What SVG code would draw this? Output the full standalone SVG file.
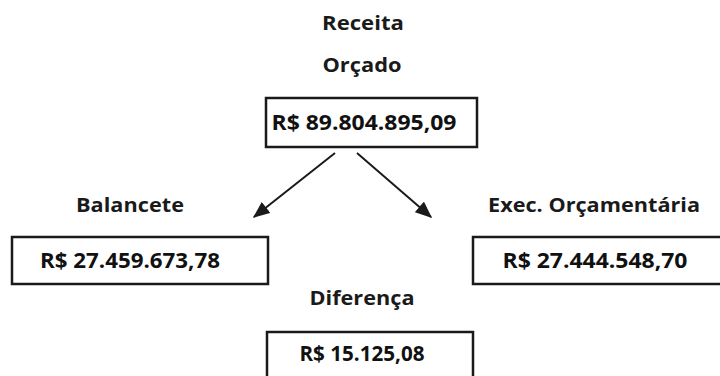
<svg xmlns="http://www.w3.org/2000/svg" width="720" height="376" viewBox="0 0 720 376">
<style>
.lbl{font-family:"Open Sans","Liberation Sans",sans-serif;font-weight:700;font-size:19px;fill:#1a1a1a;text-anchor:middle}
.val{font-family:"Open Sans","Liberation Sans",sans-serif;font-weight:700;font-size:21px;fill:#111;text-anchor:middle}
.box{fill:#fff;stroke:#1a1a1a;stroke-width:2.5}
.con{stroke:#1a1a1a;stroke-width:2;fill:none}
</style>
<defs>
<marker id="arr" viewBox="0 0 12 10" refX="11" refY="5" markerWidth="17" markerHeight="14" orient="auto" markerUnits="userSpaceOnUse">
<path d="M0,0 L12,5 L0,10 z" fill="#1a1a1a"/>
</marker>
</defs>
<rect width="720" height="376" fill="#fff"/>
<g id="title">
<text class="lbl" x="363" y="30" textLength="82" lengthAdjust="spacingAndGlyphs">Receita</text>
<text class="lbl" x="362" y="72" textLength="79" lengthAdjust="spacingAndGlyphs">Orçado</text>
</g>
<g id="orcado">
<rect class="box" x="266" y="98" width="211" height="49"/>
<text class="val" x="364" y="130" textLength="185" lengthAdjust="spacingAndGlyphs">R$ 89.804.895,09</text>
</g>
<g id="connectors">
<line class="con" x1="335" y1="153" x2="254" y2="217" marker-end="url(#arr)"/>
<line class="con" x1="357" y1="153" x2="431" y2="217" marker-end="url(#arr)"/>
</g>
<g id="balancete">
<text class="lbl" x="130" y="212" textLength="108" lengthAdjust="spacingAndGlyphs">Balancete</text>
<rect class="box" x="12" y="237" width="256" height="47"/>
<text class="val" x="130" y="268" textLength="180" lengthAdjust="spacingAndGlyphs">R$ 27.459.673,78</text>
</g>
<g id="exec">
<text class="lbl" x="594" y="212" textLength="212" lengthAdjust="spacingAndGlyphs">Exec. Orçamentária</text>
<rect class="box" x="473" y="237" width="260" height="47"/>
<text class="val" x="595" y="268" textLength="185" lengthAdjust="spacingAndGlyphs">R$ 27.444.548,70</text>
</g>
<g id="diferenca">
<text class="lbl" x="362" y="305" textLength="105" lengthAdjust="spacingAndGlyphs">Diferença</text>
<rect class="box" x="267" y="332" width="206" height="60"/>
<text class="val" x="362" y="361" textLength="125" lengthAdjust="spacingAndGlyphs">R$ 15.125,08</text>
</g>
</svg>
